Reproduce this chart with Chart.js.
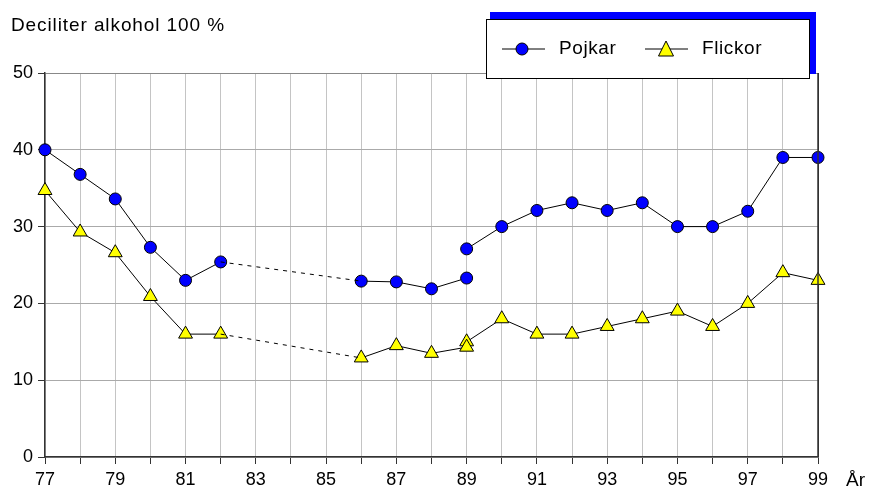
<!DOCTYPE html>
<html>
<head>
<meta charset="utf-8">
<script src="https://cdn.jsdelivr.net/npm/chart.js@4/dist/chart.umd.min.js"></script>
<style>
html,body{margin:0;padding:0;background:#fff;}
#wrap{width:870px;height:490px;position:relative;}
</style>
</head>
<body>
<div id="wrap"><canvas id="c" width="870" height="490"></canvas></div>
<script>
// ---- data ----
const yearsA = [77, 78, 79, 80, 81, 82];
const pojkarA = [40.0, 36.8, 33.6, 27.3, 23.0, 25.4];
const flickorA = [34.7, 29.3, 26.6, 20.9, 16.0, 16.0];

const yearsB = [86, 87, 88, 89];
const pojkarB = [22.9, 22.8, 21.9, 23.3];
const flickorB = [12.9, 14.5, 13.5, 14.3];

const yearsC = [89, 90, 91, 92, 93, 94, 95, 96, 97, 98, 99];
const pojkarC = [27.1, 30.0, 32.1, 33.1, 32.1, 33.1, 30.0, 30.0, 32.0, 39.0, 39.0];
const flickorC = [15.0, 18.0, 16.0, 16.0, 17.0, 18.0, 19.0, 17.0, 20.0, 24.0, 23.0];

const yTicks = [0, 10, 20, 30, 40, 50];
const seriesNames = ['Pojkar', 'Flickor'];
const yTitle = 'Deciliter alkohol 100 %';
const xTitle = 'År';

// ---- build ----
const pts = (xs, ys) => xs.map((x, i) => ({x: x, y: ys[i]}));
const styleP = {pointStyle: 'circle', pointRadius: 6, pointBackgroundColor: '#0000ff', pointBorderColor: '#000', pointBorderWidth: 1, borderColor: '#000', borderWidth: 1, clip: false};
const styleF = {pointStyle: 'triangle', pointRadius: 8, pointBackgroundColor: '#ffff00', pointBorderColor: '#000', pointBorderWidth: 1, borderColor: '#000', borderWidth: 1, clip: false};
const dash = {pointRadius: 0, borderColor: '#000', borderWidth: 1, borderDash: [4, 5], clip: false};

const datasets = [
  Object.assign({label: seriesNames[0] + ' dash', data: [ {x: yearsA[yearsA.length-1], y: pojkarA[pojkarA.length-1]}, {x: yearsB[0], y: pojkarB[0]} ]}, dash),
  Object.assign({label: seriesNames[1] + ' dash', data: [ {x: yearsA[yearsA.length-1], y: flickorA[flickorA.length-1]}, {x: yearsB[0], y: flickorB[0]} ]}, dash),
  Object.assign({label: seriesNames[1] + ' A', data: pts(yearsA, flickorA)}, styleF),
  Object.assign({label: seriesNames[1] + ' B', data: pts(yearsB, flickorB)}, styleF),
  Object.assign({label: seriesNames[1] + ' C', data: pts(yearsC, flickorC)}, styleF),
  Object.assign({label: seriesNames[0] + ' A', data: pts(yearsA, pojkarA)}, styleP),
  Object.assign({label: seriesNames[0] + ' B', data: pts(yearsB, pojkarB)}, styleP),
  Object.assign({label: seriesNames[0] + ' C', data: pts(yearsC, pojkarC)}, styleP)
];

const FONT = '"Liberation Sans", Arial, sans-serif';

const extras = {
  id: 'extras',
  afterDraw(chart) {
    const ctx = chart.ctx;
    const a = chart.chartArea;
    ctx.save();
    // right frame line
    ctx.strokeStyle = '#333';
    ctx.lineWidth = 1.5;
    ctx.beginPath();
    ctx.moveTo(a.right, a.top);
    ctx.lineTo(a.right, a.bottom);
    ctx.stroke();
    // titles
    ctx.fillStyle = '#000';
    ctx.textBaseline = 'middle';
    ctx.textAlign = 'left';
    ctx.font = '19px ' + FONT;
    ctx.letterSpacing = '0.9px';
    ctx.fillText(yTitle, 11, 26);
    ctx.letterSpacing = '0px';
    ctx.font = '19px ' + FONT;
    ctx.fillText(xTitle, 846, 481);
    // legend box with blue shadow
    ctx.fillStyle = '#0000ff';
    ctx.fillRect(490, 12, 326, 62);
    ctx.fillStyle = '#fff';
    ctx.fillRect(486, 19, 324, 60);
    ctx.strokeStyle = '#000';
    ctx.lineWidth = 1;
    ctx.strokeRect(486.5, 19.5, 323, 59);
    // legend entries
    const ly = 49;
    ctx.beginPath();
    ctx.moveTo(502, ly); ctx.lineTo(545, ly);
    ctx.moveTo(645, ly); ctx.lineTo(688, ly);
    ctx.stroke();
    ctx.fillStyle = '#0000ff';
    ctx.beginPath(); ctx.arc(522, ly, 6, 0, Math.PI * 2); ctx.fill(); ctx.stroke();
    ctx.fillStyle = '#ffff00';
    ctx.beginPath();
    ctx.moveTo(666, ly - 8); ctx.lineTo(673.5, ly + 7); ctx.lineTo(658.5, ly + 7); ctx.closePath();
    ctx.fill(); ctx.stroke();
    ctx.fillStyle = '#000';
    ctx.font = '19px ' + FONT;
    ctx.letterSpacing = '0.6px';
    ctx.fillText(seriesNames[0], 559, ly);
    ctx.fillText(seriesNames[1], 702, ly);
    ctx.restore();
  }
};

new Chart(document.getElementById('c'), {
  type: 'line',
  data: {datasets: datasets},
  options: {
    responsive: false,
    animation: false,
    layout: {padding: {top: 73, right: 52, left: 0, bottom: 0}},
    plugins: {legend: {display: false}, tooltip: {enabled: false}},
    scales: {
      x: {
        type: 'linear', min: 77, max: 99,
        afterFit: s => { s.height = 33; },
        ticks: {
          stepSize: 1, autoSkip: false, maxRotation: 0, padding: 5,
          color: '#000', font: {family: FONT, size: 18},
          callback: v => (v % 2 === 1 ? String(v) : '')
        },
        grid: {
          color: c => (c.tick && c.tick.value === 99 ? '#333' : '#c4c4c4'),
          tickColor: '#333', tickLength: 7, lineWidth: 1
        },
        border: {color: '#333', width: 1.5}
      },
      y: {
        min: yTicks[0], max: yTicks[yTicks.length - 1],
        afterFit: s => { s.width = 45; },
        afterBuildTicks: s => { s.ticks = yTicks.map(v => ({value: v})); },
        ticks: {color: '#000', font: {family: FONT, size: 18}, padding: 5},
        grid: {
          color: c => (c.tick && c.tick.value === 50 ? '#888' : '#aaa'),
          tickColor: '#333', tickLength: 7, lineWidth: 1
        },
        border: {color: '#333', width: 1.5}
      }
    }
  },
  plugins: [extras]
});
</script>
</body>
</html>
